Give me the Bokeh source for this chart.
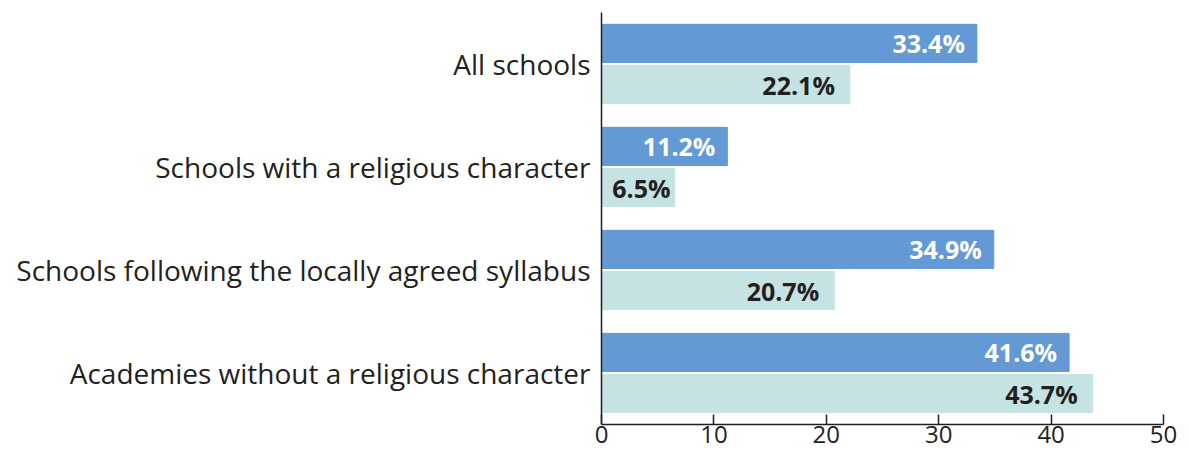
from bokeh.plotting import figure
from bokeh.models import ColumnDataSource, FactorRange, FixedTicker
from bokeh.transform import dodge
from bokeh.core.properties import value
from bokeh.embed import file_html
from bokeh.resources import INLINE

categories = ["All schools", "Schools with a religious character",
              "Schools following the locally agreed syllabus",
              "Academies without a religious character"]
series_1 = [33.4, 11.2, 34.9, 41.6]
series_2 = [22.1, 6.5, 20.7, 43.7]
x_ticks = [0, 10, 20, 30, 40, 50]

BLUE = "#6399D4"
TEAL = "#C5E3E2"
DARK = "#231F20"
FONT = "Open Sans"

src = ColumnDataSource(dict(
    cat=categories, s1=series_1, s2=series_2,
    l1=[f"{v:.1f}%" for v in series_1],
    l2=[f"{v:.1f}%" for v in series_2],
    o1=[-12 if v > 10 else -4 for v in series_1],
    o2=[-15 if v > 10 else -4 for v in series_2],
))

p = figure(width=1189, height=457, output_backend="svg", toolbar_location=None,
           y_range=FactorRange(*reversed(categories)), x_range=(0, 50))
p.min_border_left = 601
p.min_border_right = 26
p.min_border_top = 12
p.min_border_bottom = 33
p.outline_line_color = None
p.grid.visible = False
p.background_fill_color = "white"
p.border_fill_color = "white"

p.hbar(y=dodge("cat", 0.2, range=p.y_range), right="s1", left=0, height=0.37,
       color=BLUE, source=src)
p.hbar(y=dodge("cat", -0.2, range=p.y_range), right="s2", left=0, height=0.37,
       color=TEAL, source=src)

p.text(x="s1", y=dodge("cat", 0.2, range=p.y_range), text="l1", source=src,
       x_offset="o1", text_align="right", text_baseline="middle",
       text_font=value(FONT), text_font_style="bold", text_font_size="25px",
       text_color="white")
p.text(x="s2", y=dodge("cat", -0.2, range=p.y_range), text="l2", source=src,
       x_offset="o2", text_align="right", text_baseline="middle",
       text_font=value(FONT), text_font_style="bold", text_font_size="25px",
       text_color=DARK)

xa = p.xaxis[0]
xa.ticker = FixedTicker(ticks=x_ticks)
xa.minor_tick_line_color = None
xa.major_tick_in = 10
xa.major_tick_out = 0
xa.major_tick_line_color = DARK
xa.major_tick_line_width = 1.5
xa.axis_line_color = DARK
xa.axis_line_width = 1.5
xa.major_label_text_font = FONT
xa.major_label_text_font_size = "24px"
xa.major_label_text_color = DARK
xa.major_label_standoff = 1

ya = p.yaxis[0]
ya.major_tick_line_color = None
ya.minor_tick_line_color = None
ya.axis_line_color = DARK
ya.axis_line_width = 1.5
ya.major_label_text_font = FONT
ya.major_label_text_font_size = "28px"
ya.major_label_text_color = DARK
ya.major_label_standoff = 5

open("out.html", "w").write(file_html(p, INLINE))
